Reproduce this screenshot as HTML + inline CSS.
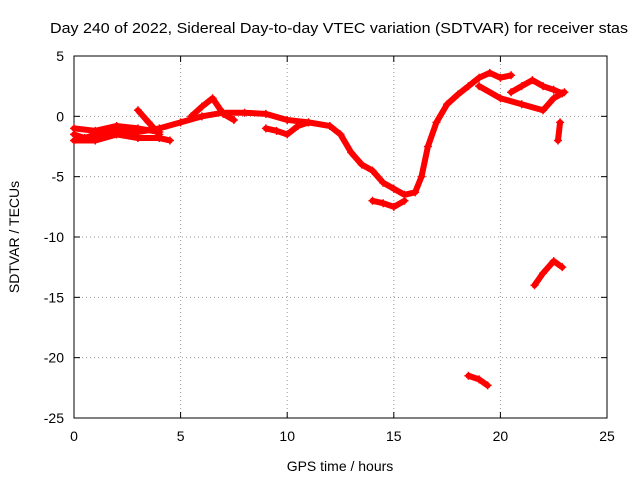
<!DOCTYPE html>
<html><head><meta charset="utf-8"><style>
body{margin:0;background:#fff}
svg{display:block;font-family:"Liberation Sans",sans-serif}
</style></head><body>
<svg id="chart" width="640" height="480" viewBox="0 0 640 480">
<text x="50" y="33" font-size="15" textLength="578" lengthAdjust="spacingAndGlyphs">Day 240 of 2022, Sidereal Day-to-day VTEC variation (SDTVAR) for receiver stas</text>
<g id="grid"></g>
<g id="axes"></g>
<g id="series"></g>
<text x="340" y="471" font-size="14" text-anchor="middle">GPS time / hours</text>
<text transform="translate(19,237) rotate(-90)" font-size="14" text-anchor="middle">SDTVAR / TECUs</text>
</svg>
<script>
const xTicks=[0,5,10,15,20,25];
const yTicks=[5,0,-5,-10,-15,-20,-25];
const segTimes=[
[0,0.5,1,2,3,4,5,6,7,8,9,10,11,12,12.5,13,13.5,14,14.5,15,15.5,16,16.3,16.6,17,17.5,18,18.5,19,19.5,20,20.5],
[0,1,2,3,4,4.5],
[0,1,2,3,4],
[3,3.5,4],
[5.5,6,6.5,7,7.5],
[9,9.5,10,10.5,11],
[14,14.5,15,15.5],
[19,20,21,22,22.5,23],
[20.5,21,21.5,22,22.5,22.9],
[22.8,22.7],
[21.6,22,22.5,22.9],
[18.5,19,19.4]
];
const segValues=[
[-1.5,-1.8,-1.5,-1.2,-1.3,-1.0,-0.5,0,0.3,0.3,0.2,-0.3,-0.5,-0.8,-1.5,-3,-4,-4.5,-5.5,-6,-6.5,-6.3,-5,-2.5,-0.5,1,1.8,2.5,3.2,3.6,3.2,3.4],
[-2,-2,-1.5,-1.8,-1.8,-2],
[-1,-1.2,-0.8,-1,-1.3],
[0.5,-0.5,-1.5],
[0,0.8,1.5,0.2,-0.3],
[-1,-1.2,-1.5,-0.8,-0.5],
[-7,-7.2,-7.5,-7],
[2.5,1.5,1,0.5,1.5,2],
[2,2.5,3,2.5,2.2,1.9],
[-0.5,-2],
[-14,-13,-12,-12.5],
[-21.5,-21.8,-22.3]
];
const X0=74,X1=607,Y0=418,Y1=56;
const xs=v=>X0+(v-0)/(25-0)*(X1-X0);
const ys=v=>Y0-(v+25)/(30)*(Y0-Y1);
const NS='http://www.w3.org/2000/svg';
const grid=document.getElementById('grid'),axes=document.getElementById('axes'),ser=document.getElementById('series');
function mk(tag,attrs,parent){const e=document.createElementNS(NS,tag);for(const k in attrs)e.setAttribute(k,attrs[k]);parent.appendChild(e);return e;}
xTicks.forEach(t=>{
 if(t>0&&t<25){const g=mk('line',{x1:xs(t),x2:xs(t),y1:Y1,y2:Y0,stroke:'#999','stroke-dasharray':'1,3'},grid);
 
 }
 const tx=mk('text',{x:xs(t),y:Y0+23,'font-size':14,'text-anchor':'middle'},axes);tx.textContent=t;
 
 
 mk('line',{x1:xs(t),x2:xs(t),y1:Y0,y2:Y0-6,stroke:'#000'},axes);
 mk('line',{x1:xs(t),x2:xs(t),y1:Y1,y2:Y1+6,stroke:'#000'},axes);
});
yTicks.forEach(t=>{
 if(t<5&&t>-25){const g=mk('line',{x1:X0,x2:X1,y1:ys(t),y2:ys(t),stroke:'#999','stroke-dasharray':'1,3'},grid);
 
 }
 const tx=mk('text',{x:X0-10,y:ys(t)+5,'font-size':14,'text-anchor':'end'},axes);tx.textContent=t;
 
 
 mk('line',{x1:X0,x2:X0+6,y1:ys(t),y2:ys(t),stroke:'#000'},axes);
 mk('line',{x1:X1,x2:X1-6,y1:ys(t),y2:ys(t),stroke:'#000'},axes);
});
const fr=mk('rect',{x:X0,y:Y1,width:X1-X0,height:Y0-Y1,fill:'none',stroke:'#000'},axes);


segTimes.forEach((ts,i)=>{
 const pts=ts.map((t,j)=>xs(t)+','+ys(segValues[i][j])).join(' ');
 const pl=mk('polyline',{points:pts,fill:'none',stroke:'#f00','stroke-width':6,'stroke-linejoin':'round','stroke-linecap':'round'},ser);
 
 
 ts.forEach((t,j)=>{
  const x=xs(t),y=ys(segValues[i][j]);
  const p=mk('path',{d:`M${x-4},${y}h8M${x},${y-4}v8`,stroke:'#f00','stroke-width':1.5},ser);
  
  
 });
});
</script>
</body></html>
